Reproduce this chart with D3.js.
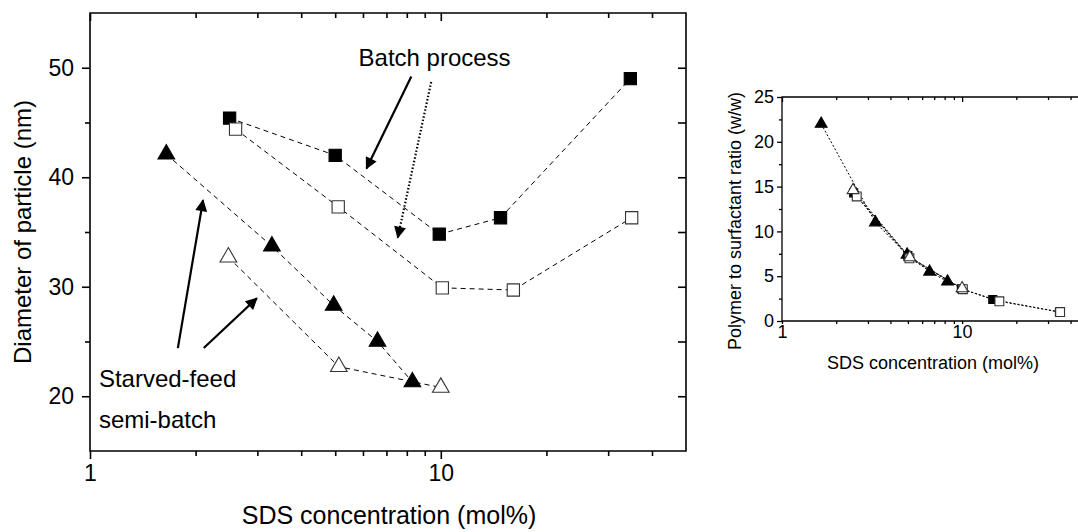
<!DOCTYPE html>
<html>
<head>
<meta charset="utf-8">
<script src="https://cdn.jsdelivr.net/npm/d3@7"></script>
<style>
  body { margin: 0; background: #fff; }
  text { font-family: Arial, "Liberation Sans", sans-serif; fill: #000; }
</style>
</head>
<body>
<div id="chart"></div>
<script>
// SDS concentration (mol%) for each series
const batchFilledX = [2.5, 5.0, 9.9, 14.8, 34.7];
const batchOpenX   = [2.6, 5.1, 10.1, 16.1, 35.0];
const semiFilledX  = [1.65, 3.3, 4.95, 6.6, 8.3];
const semiOpenX    = [2.48, 5.12, 10.0];

// diameter of particle (nm) - main chart
const batchFilledD = [45.4, 42.0, 34.8, 36.3, 49.0];
const batchOpenD   = [44.4, 37.3, 29.9, 29.7, 36.3];
const semiFilledD  = [42.1, 33.7, 28.3, 25.0, 21.3];
const semiOpenD    = [32.7, 22.7, 20.8];

// polymer to surfactant ratio (w/w) - inset
const batchFilledR = [14.3, 7.3, 3.6, 2.4, 1.0];
const batchOpenR   = [13.9, 7.0, 3.55, 2.2, 1.0];
const semiFilledR  = [22.0, 11.0, 7.4, 5.5, 4.4];
const semiOpenR    = [14.6, 7.1, 3.65];

// ticks
const xMajor = [1, 10];
const xMinor = [2, 3, 4, 5, 6, 7, 8, 9, 20, 30, 40];
const dMajor = [20, 30, 40, 50];
const dMinor = [25, 35, 45];
const rMajor = [0, 5, 10, 15, 20, 25];
const rMinor = [2.5, 7.5, 12.5, 17.5, 22.5];

const svg = d3.select("#chart").append("svg")
  .attr("width", 1078)
  .attr("height", 532);

// arrowhead
svg.append("defs").append("marker")
  .attr("id", "head")
  .attr("viewBox", "0 0 10 10")
  .attr("refX", 9).attr("refY", 5)
  .attr("markerWidth", 16).attr("markerHeight", 12)
  .attr("markerUnits", "userSpaceOnUse")
  .attr("orient", "auto")
  .append("path")
  .attr("d", "M0,0 L10,5 L0,10 Z")
  .attr("fill", "#000");

function series(xs, ys) {
  return d3.zip(xs, ys);
}

function drawLine(g, x, y, data, dash, width) {
  g.append("path")
    .datum(data)
    .attr("fill", "none")
    .attr("stroke", "#000")
    .attr("stroke-width", width)
    .attr("stroke-dasharray", dash)
    .attr("d", d3.line().x(d => x(d[0])).y(d => y(d[1])));
}

function drawMarkers(g, x, y, data, type, filled, size) {
  g.append("g")
    .selectAll("path")
    .data(data)
    .enter()
    .append("path")
    .attr("transform", d => "translate(" + x(d[0]) + "," + y(d[1]) + ")")
    .attr("d", d3.symbol().type(type).size(size))
    .attr("fill", filled ? "#000" : "#fff")
    .attr("stroke", filled ? "#000" : "#333")
    .attr("stroke-width", 1.1);
}

function frameAxes(g, x, y, opt) {
  const left = x.range()[0], w = x.range()[1];
  const top = y.range()[1], h = y.range()[0];
  const fmt = d3.format("d");

  // bottom
  g.append("g").attr("transform", "translate(0," + h + ")")
    .call(d3.axisBottom(x).tickValues(xMajor).tickSize(opt.xMajorLen).tickPadding(opt.xPad).tickFormat(fmt))
    .call(a => a.select(".domain").remove())
    .call(a => a.selectAll("text").attr("font-size", opt.font));
  g.append("g").attr("transform", "translate(0," + h + ")")
    .call(d3.axisBottom(x).tickValues(xMinor).tickSize(opt.xMinorLen).tickFormat(""))
    .call(a => a.select(".domain").remove());

  // top, ticks pointing inside
  g.append("g").attr("transform", "translate(0," + top + ")")
    .call(d3.axisBottom(x).tickValues(xMajor).tickSize(opt.major).tickFormat(""))
    .call(a => a.select(".domain").remove());
  g.append("g").attr("transform", "translate(0," + top + ")")
    .call(d3.axisBottom(x).tickValues(xMinor).tickSize(opt.minor).tickFormat(""))
    .call(a => a.select(".domain").remove());

  // left
  g.append("g").attr("transform", "translate(" + left + ",0)")
    .call(d3.axisLeft(y).tickValues(opt.yMajor).tickSize(opt.major).tickPadding(opt.yPad).tickFormat(fmt))
    .call(a => a.select(".domain").remove())
    .call(a => a.selectAll("text").attr("font-size", opt.font));
  g.append("g").attr("transform", "translate(" + left + ",0)")
    .call(d3.axisLeft(y).tickValues(opt.yMinor).tickSize(opt.minor).tickFormat(""))
    .call(a => a.select(".domain").remove());

  // right, ticks pointing inside
  if (opt.right) {
    g.append("g").attr("transform", "translate(" + w + ",0)")
      .call(d3.axisLeft(y).tickValues(opt.yMajor.concat(opt.yMinor)).tickSize(opt.major).tickFormat(""))
      .call(a => a.select(".domain").remove());
  }

  g.selectAll(".tick line").attr("stroke-width", opt.stroke);

  // frame lines
  g.append("path")
    .attr("fill", "none")
    .attr("stroke", "#000")
    .attr("stroke-width", opt.stroke)
    .attr("d", opt.right
      ? "M" + left + "," + top + "H" + w + "V" + h + "H" + left + "Z"
      : "M" + w + "," + top + "H" + left + "V" + h + "H" + w);
}

// ---------- main chart ----------
const x = d3.scaleLog().domain([1, 50]).range([90, 686]);
const y = d3.scaleLinear().domain([15, 55]).range([451, 13]);
const main = svg.append("g");

frameAxes(main, x, y, {major: 8, minor: 5, xMajorLen: 8, xMinorLen: 5, xPad: 6, yPad: 8,
  font: "23px", stroke: 1.6, yMajor: dMajor, yMinor: dMinor, right: true});

const dash = "5,4";
drawLine(main, x, y, series(batchFilledX, batchFilledD), dash, 1);
drawLine(main, x, y, series(batchOpenX, batchOpenD), dash, 1);
drawLine(main, x, y, series(semiFilledX, semiFilledD), dash, 1);
drawLine(main, x, y, series(semiOpenX, semiOpenD), dash, 1);
drawMarkers(main, x, y, series(batchFilledX, batchFilledD), d3.symbolSquare, true, 150);
drawMarkers(main, x, y, series(batchOpenX, batchOpenD), d3.symbolSquare, false, 150);
drawMarkers(main, x, y, series(semiFilledX, semiFilledD), d3.symbolTriangle, true, 120);
drawMarkers(main, x, y, series(semiOpenX, semiOpenD), d3.symbolTriangle, false, 120);

// annotations, placed in data units
main.append("text").attr("x", x(9.6)).attr("y", y(50.2))
  .attr("text-anchor", "middle").attr("font-size", "24px").text("Batch process");
main.append("text").attr("x", x(1.06)).attr("y", y(20.8))
  .attr("font-size", "24px").text("Starved-feed");
main.append("text").attr("x", x(1.06)).attr("y", y(17.1))
  .attr("font-size", "24px").text("semi-batch");

function arrow(x0, y0, x1, y1, dotted) {
  main.append("line")
    .attr("x1", x(x0)).attr("y1", y(y0))
    .attr("x2", x(x1)).attr("y2", y(y1))
    .attr("stroke", "#000")
    .attr("stroke-width", 2.2)
    .attr("stroke-dasharray", dotted ? "1.5,2" : null)
    .attr("marker-end", "url(#head)");
}
arrow(8.24, 49.2, 6.14, 40.8, false);
arrow(9.39, 48.7, 7.54, 34.5, true);
arrow(1.78, 24.4, 2.10, 37.9, false);
arrow(2.11, 24.4, 2.99, 28.95, false);

main.append("text")
  .attr("x", 389).attr("y", 524)
  .attr("text-anchor", "middle").attr("font-size", "25px")
  .text("SDS concentration (mol%)");
main.append("text")
  .attr("transform", "translate(31,232) rotate(-90)")
  .attr("text-anchor", "middle").attr("font-size", "24px")
  .text("Diameter of particle (nm)");

// ---------- inset ----------
const xi = d3.scaleLog().domain([1, 50]).range([782, 1088]);
const yi = d3.scaleLinear().domain([0, 25]).range([321, 97]);
const inset = svg.append("g");

frameAxes(inset, xi, yi, {major: 5, minor: 3, xMajorLen: 3, xMinorLen: 3, xPad: 1, yPad: 3,
  font: "18px", stroke: 1.3, yMajor: rMajor, yMinor: rMinor, right: false});

const dashI = "2,2";
drawLine(inset, xi, yi, series(batchFilledX, batchFilledR), dashI, 1);
drawLine(inset, xi, yi, series(batchOpenX, batchOpenR), dashI, 1);
drawLine(inset, xi, yi, series(semiFilledX, semiFilledR), dashI, 1);
drawLine(inset, xi, yi, series(semiOpenX, semiOpenR), dashI, 1);
drawMarkers(inset, xi, yi, series(batchFilledX, batchFilledR), d3.symbolSquare, true, 64);
drawMarkers(inset, xi, yi, series(semiFilledX, semiFilledR), d3.symbolTriangle, true, 60);
drawMarkers(inset, xi, yi, series(batchOpenX, batchOpenR), d3.symbolSquare, false, 78);
drawMarkers(inset, xi, yi, series(semiOpenX, semiOpenR), d3.symbolTriangle, false, 60);

inset.append("text")
  .attr("x", 933).attr("y", 369)
  .attr("text-anchor", "middle").attr("font-size", "18px")
  .text("SDS concentration (mol%)");
inset.append("text")
  .attr("transform", "translate(741,221) rotate(-90)")
  .attr("text-anchor", "middle").attr("font-size", "18px")
  .text("Polymer to surfactant ratio (w/w)");
</script>
</body>
</html>
